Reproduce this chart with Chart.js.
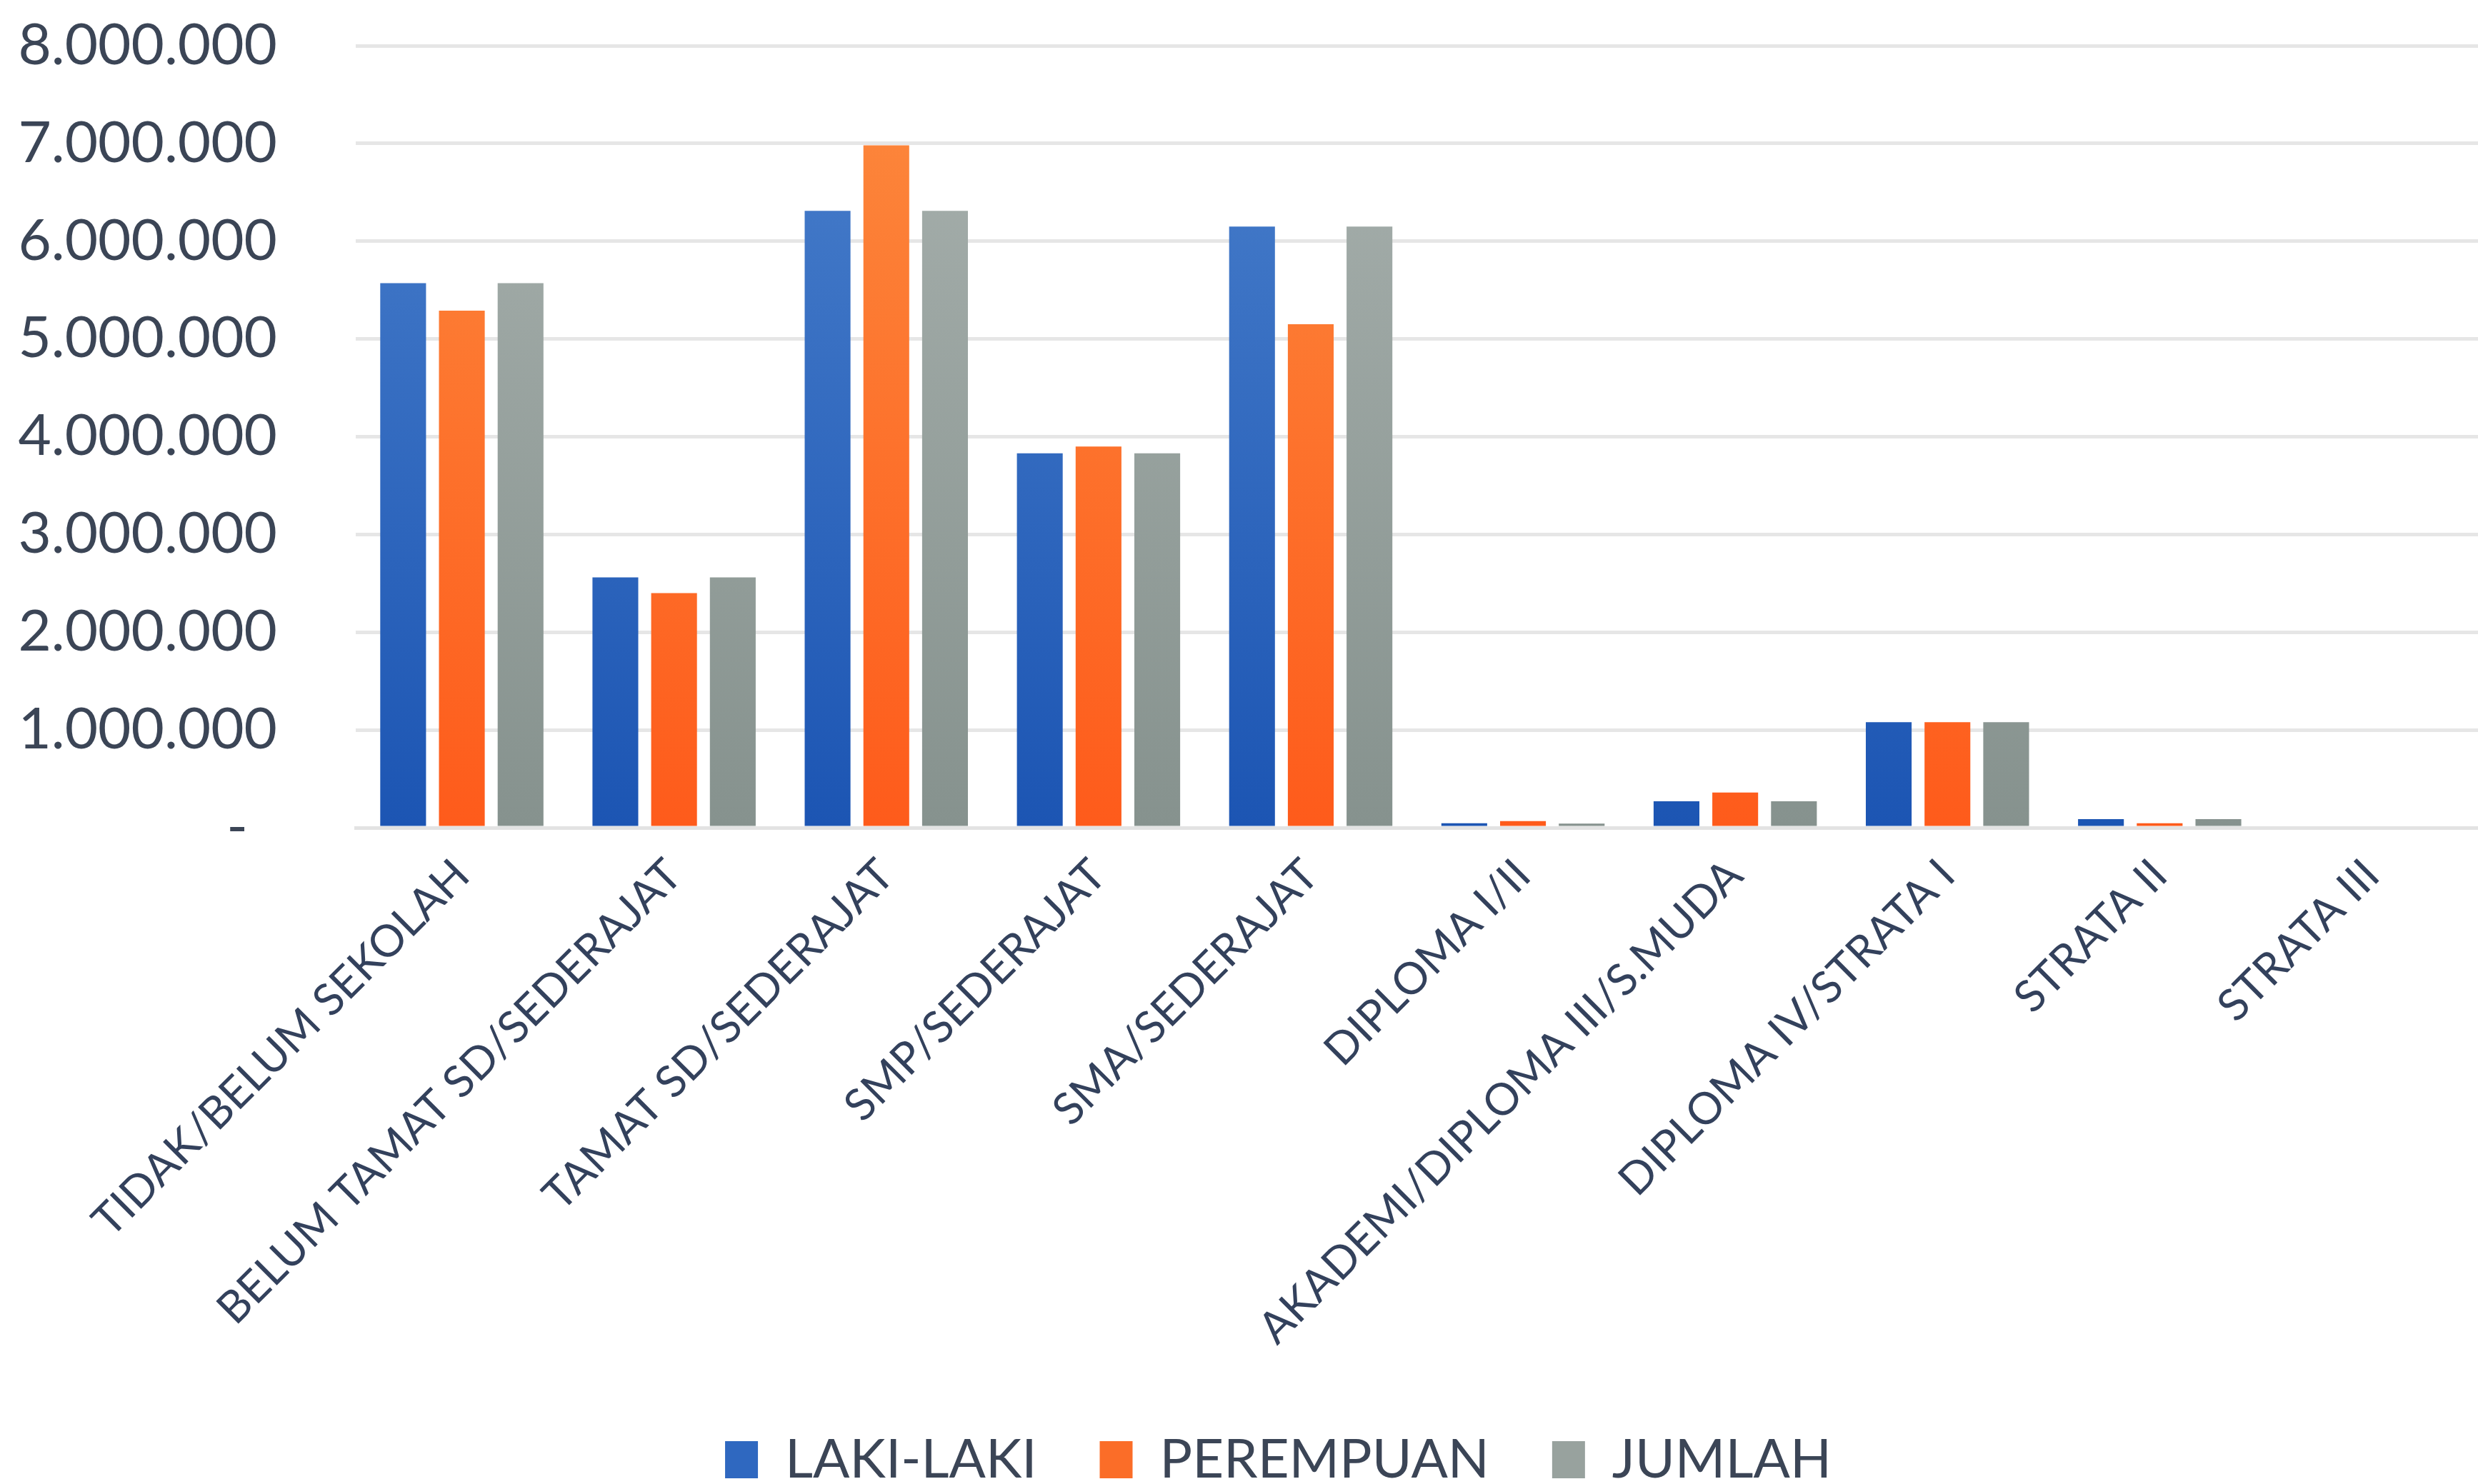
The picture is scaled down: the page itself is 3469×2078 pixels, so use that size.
<!DOCTYPE html>
<html>
<head>
<meta charset="utf-8">
<script src="https://cdn.jsdelivr.net/npm/chart.js@4.4.1/dist/chart.umd.min.js"></script>
<style>
  body { margin: 0; background: #fff; }
  #wrap { width: 3469px; height: 2078px; }
</style>
</head>
<body>
<div id="wrap"><canvas id="eduChart"></canvas></div>
<script>
const categories = [
    'TIDAK/BELUM SEKOLAH',
    'BELUM TAMAT SD/SEDERAJAT',
    'TAMAT SD/SEDERAJAT',
    'SMP/SEDERAJAT',
    'SMA/SEDERAJAT',
    'DIPLOMA I/II',
    'AKADEMI/DIPLOMA III/S.MUDA',
    'DIPLOMA IV/STRATA I',
    'STRATA II',
    'STRATA III'
];
const seriesNames = ['LAKI-LAKI', 'PEREMPUAN', 'JUMLAH'];

const lakiLaki  = [5570000, 2560000, 6310000, 3830000, 6150000, 45000, 270000, 1080000, 88000, 0];
const perempuan = [5290000, 2400000, 6980000, 3900000, 5150000, 68000, 360000, 1080000, 45000, 0];
const jumlah    = [5570000, 2560000, 6310000, 3830000, 6150000, 42000, 270000, 1080000, 88000, 0];

const yTicks = [0, 1000000, 2000000, 3000000, 4000000, 5000000, 6000000, 7000000, 8000000];

const ctx = document.getElementById('eduChart').getContext('2d');

const FONT = 'Lato';

const formatNumber = (v) => {
    if (v === 0) return '-  ';
    return String(v).replace(/\B(?=(\d{3})+(?!\d))/g, '.');
};

// vertical gradient over the chart area, darker at the bottom
const makeGradient = (top, bottom) => (context) => {
    const chart = context.chart;
    const area = chart.chartArea;
    if (!area) return bottom;
    const g = chart.ctx.createLinearGradient(0, area.bottom, 0, area.top);
    g.addColorStop(0, bottom);
    g.addColorStop(1, top);
    return g;
};

const solid = ['#2f68c0', '#fb6d28', '#98a29e'];

// nudge the legend a little to the right and down, like the original
const legendShift = {
    id: 'legendShift',
    afterUpdate: (chart) => {
        const lg = chart.legend;
        if (!lg || lg._shifted) return;
        const orig = lg.draw.bind(lg);
        lg.draw = function () {
            chart.ctx.save();
            chart.ctx.translate(55, 24);
            orig();
            chart.ctx.restore();
        };
        lg._shifted = true;
    }
};

const chart = new Chart(ctx, {
    type: 'bar',
    data: {
        labels: categories,
        datasets: [
            { label: seriesNames[0], data: lakiLaki,  backgroundColor: makeGradient('#4a80cc', '#1c55b3') },
            { label: seriesNames[1], data: perempuan, backgroundColor: makeGradient('#fc8a3e', '#fe5b1b') },
            { label: seriesNames[2], data: jumlah,    backgroundColor: makeGradient('#a8b1ae', '#86928e') }
        ]
    },
    plugins: [legendShift],
    options: {
        responsive: true,
        maintainAspectRatio: false,
        animation: false,
        categoryPercentage: 0.83,
        barPercentage: 0.78,
        layout: { padding: { top: 64, left: 0, right: 0, bottom: 10 } },
        plugins: {
            tooltip: { enabled: false },
            legend: {
                position: 'bottom',
                labels: {
                    font: { family: FONT, size: 76 },
                    color: '#3b4556',
                    boxWidth: 46,
                    boxHeight: 52,
                    padding: 88,
                    generateLabels: (c) => {
                        const items = Chart.defaults.plugins.legend.labels.generateLabels(c);
                        items.forEach((it, i) => { it.fillStyle = solid[i]; it.strokeStyle = solid[i]; it.lineWidth = 0; });
                        return items;
                    }
                }
            }
        },
        scales: {
            x: {
                grid: { display: false, drawTicks: false },
                border: { display: true, color: '#e3e3e3', width: 5 },
                ticks: {
                    font: { family: FONT, size: 62 },
                    color: '#33415c',
                    minRotation: 45,
                    maxRotation: 45,
                    autoSkip: false,
                    padding: 30
                },
                afterFit: (scale) => {
                    scale.height = 735;
                    scale.paddingLeft = 0;
                    scale.paddingRight = 0;
                    scale.paddingTop = 0;
                    scale.paddingBottom = 0;
                }
            },
            y: {
                min: 0,
                max: 8000000,
                afterBuildTicks: (scale) => { scale.ticks = yTicks.map(v => ({ value: v })); },
                grid: { color: '#e6e6e6', lineWidth: 5, drawTicks: false },
                border: { display: false },
                ticks: {
                    font: { family: FONT, size: 80 },
                    color: '#3b4556',
                    padding: 110,
                    callback: (v) => formatNumber(v)
                },
                afterFit: (scale) => {
                    scale.width = 498;
                    scale.paddingTop = 0;
                    scale.paddingBottom = 0;
                }
            }
        }
    }
});
</script>
</body>
</html>
